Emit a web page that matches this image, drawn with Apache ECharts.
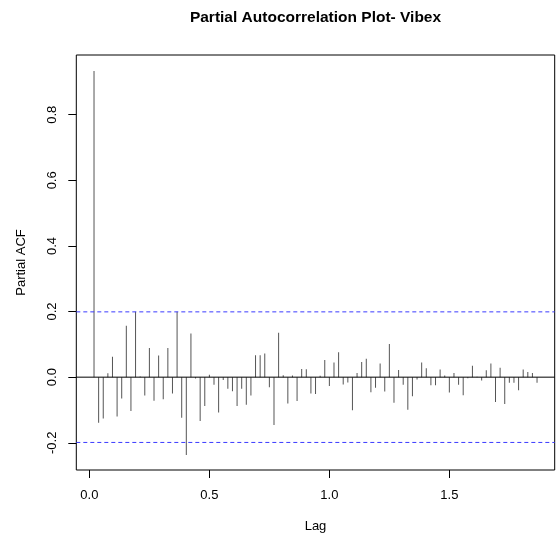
<!DOCTYPE html>
<html>
<head>
    <meta charset="utf-8">
    <title>Partial Autocorrelation Plot- Vibex</title>
    <script src="https://cdn.jsdelivr.net/npm/echarts@6/dist/echarts.min.js"></script>
    <style>
        html, body { margin: 0; padding: 0; background: #fff; }
        #pacf { width: 556px; height: 538px; }
    </style>
</head>
<body>
<div id="pacf"></div>
<script>
    // weekly series -> lag measured in years
    var frequency = 52;
    // partial autocorrelation at lag 1..97
    var pacfValues = [
        0.933, -0.139, -0.126, 0.012, 0.062, -0.120, -0.065, 0.157, -0.103, 0.199,
        0.002, -0.056, 0.089, -0.072, 0.066, -0.067, 0.089, -0.050, 0.199, -0.124,
        -0.237, 0.133, -0.004, -0.134, -0.088, 0.007, -0.023, -0.108, -0.009, -0.035,
        -0.043, -0.088, -0.035, -0.084, -0.056, 0.067, 0.067, 0.072, -0.031, -0.146,
        0.135, 0.006, -0.080, 0.005, -0.073, 0.025, 0.024, -0.050, -0.051, 0.004,
        0.052, -0.027, 0.045, 0.076, -0.022, -0.016, -0.101, 0.013, 0.046, 0.056,
        -0.046, -0.032, 0.042, -0.044, 0.101, -0.078, 0.022, -0.023, -0.099, -0.058,
        -0.007, 0.045, 0.027, -0.025, -0.025, 0.023, 0.005, -0.047, 0.013, -0.023,
        -0.055, -0.003, 0.035, 0.001, -0.010, 0.021, 0.042, -0.076, 0.029, -0.082,
        -0.017, -0.017, -0.040, 0.023, 0.016, 0.013, -0.017
    ];
    var confLimit = 0.199;
    var xTicks = [0, 0.5, 1.0, 1.5];
    var yTicks = [-0.2, 0, 0.2, 0.4, 0.6, 0.8];
    var xRange = [-0.0546, 1.939];
    var yRange = [-0.283, 0.982];

    var fontName = '"Liberation Sans", Arial, sans-serif';
    var limitBlue = '#3b3bff';

    var barData = [];
    for (var i = 0; i < pacfValues.length; i++) {
        barData.push([(i + 1) / frequency, pacfValues[i]]);
    }

    function hLine(name, y, color, type) {
        return {
            name: name,
            type: 'line',
            silent: true,
            symbol: 'none',
            color: color,
            lineStyle: {color: color, type: type, width: 1},
            data: [[xRange[0], y], [xRange[1], y]],
            z: 3
        };
    }

    var myChart = echarts.init(document.getElementById('pacf'));
    var option = {
        animation: false,
        backgroundColor: '#fff',
        title: {
            text: 'Partial Autocorrelation Plot- Vibex',
            left: 315.5,
            top: 10,
            padding: 0,
            textAlign: 'center',
            textStyle: {fontFamily: fontName, fontWeight: 'bold', fontSize: 15.5, color: '#000'}
        },
        grid: {
            left: 76.3,
            right: 1.3,
            top: 55,
            bottom: 67.3,
            show: true,
            borderColor: '#000',
            borderWidth: 1,
            backgroundColor: 'transparent'
        },
        xAxis: {
            type: 'value',
            min: xRange[0],
            max: xRange[1],
            name: 'Lag',
            nameLocation: 'middle',
            nameGap: 50,
            nameTextStyle: {fontFamily: fontName, fontSize: 13, color: '#000'},
            axisLine: {show: false, onZero: false},
            splitLine: {show: false},
            axisTick: {show: true, inside: false, length: 8, customValues: xTicks, lineStyle: {color: '#000'}},
            axisLabel: {
                customValues: xTicks,
                margin: 19,
                fontFamily: fontName, fontSize: 13, color: '#000',
                formatter: function (v) { return v.toFixed(1); }
            }
        },
        yAxis: {
            type: 'value',
            min: yRange[0],
            max: yRange[1],
            name: 'Partial ACF',
            nameLocation: 'middle',
            nameGap: 48,
            nameTextStyle: {fontFamily: fontName, fontSize: 13, color: '#000'},
            axisLine: {show: false, onZero: false},
            splitLine: {show: false},
            axisTick: {show: true, inside: false, length: 8, customValues: yTicks, lineStyle: {color: '#000'}},
            axisLabel: {
                customValues: yTicks,
                rotate: 90,
                margin: 17,
                fontFamily: fontName, fontSize: 13, color: '#000',
                formatter: function (v) { return v.toFixed(1); }
            }
        },
        series: [
            {
                name: 'PACF',
                type: 'bar',
                barWidth: 1,
                data: barData,
                itemStyle: {color: '#555'}
            },
            hLine('zero', 0, '#000', 'solid'),
            hLine('upper', confLimit, limitBlue, [4, 3]),
            hLine('lower', -confLimit, limitBlue, [4, 3])
        ]
    };
    myChart.setOption(option);
</script>
</body>
</html>
